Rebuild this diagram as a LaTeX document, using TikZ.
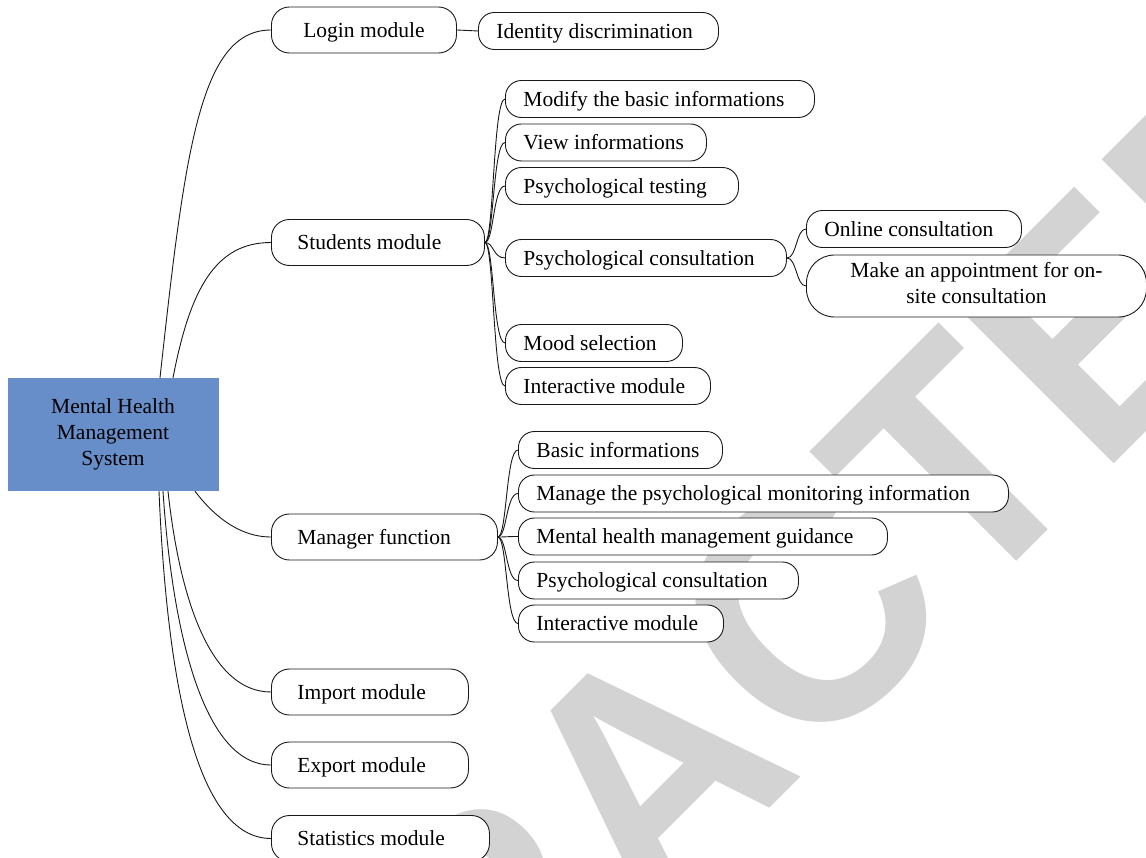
\documentclass[tikz,border=0pt]{standalone}
\usepackage{fontspec}
\setmainfont{Liberation Serif}
\newfontfamily\wmfont{Liberation Sans}
\definecolor{boxblue}{RGB}{104,142,201}
\definecolor{wmgray}{RGB}{211,211,211}
\newcommand\myL[2]{\makebox[#1pt][l]{#2}}
\begin{document}
\begin{tikzpicture}[x=1pt,y=-1pt,
  every node/.style={font=\fontsize{21.5}{26}\selectfont},
  lone/.style={draw=black!90, line width=0.9pt, fill=white, rounded corners=18pt,
    minimum height=46pt, inner xsep=26pt, inner ysep=0pt,
    text height=14.5pt, text depth=0pt, anchor=west},
  ltwo/.style={lone, rounded corners=16pt, minimum height=37pt, inner xsep=18pt},
  link/.style={draw=black!90, line width=0.9pt}]
\useasboundingbox (0,0) rectangle (1146,858);
\clip (0,0) rectangle (1146,858);
% watermark
\node[rotate=45, xscale=0.954, anchor=base west, inner sep=0pt, text=wmgray,
  font=\wmfont\bfseries\fontsize{325}{325}\selectfont] (wm) at (52,1526) {RETRACTED};
% central box
\node[fill=boxblue, minimum width=211pt, minimum height=113pt, align=center, inner sep=0pt] (c) at (113,434.5)
  {Mental Health\\Management\\System};
% level 1
\node[lone] (login) at (271,30) {\makebox[133pt]{Login module}};
\node[lone] (stud) at (271,242.5) {\myL{161}{Students module}};
\node[lone] (mgr) at (271,537) {\myL{174}{Manager function}};
\node[lone] (imp) at (271,692) {\myL{145}{Import module}};
\node[lone] (exp) at (271,765) {\myL{145}{Export module}};
\node[lone] (stat) at (271,838.5) {\myL{166}{Statistics module}};
% level 2
\node[ltwo] (ident) at (478,31) {\myL{204}{Identity discrimination}};
\node[ltwo] (mod) at (505,99) {\myL{273}{Modify the basic informations}};
\node[ltwo] (view) at (505,142.5) {\myL{165}{View informations}};
\node[ltwo] (test) at (505,186) {\myL{197}{Psychological testing}};
\node[ltwo] (pcs) at (505,258) {\myL{245}{Psychological consultation}};
\node[ltwo] (mood) at (505,343) {\myL{141}{Mood selection}};
\node[ltwo] (inter) at (505,386) {\myL{169}{Interactive module}};
\node[ltwo] (online) at (806,229) {\myL{179}{Online consultation}};
\node[draw=black!90, line width=0.9pt, fill=white, rounded corners=28pt, anchor=west,
  minimum width=340pt, minimum height=62pt, inner sep=0pt, align=center] (make) at (806,286)
  {Make an appointment for on-\\site consultation\rule[-6pt]{0pt}{6pt}};
\node[ltwo] (basic) at (518,450) {\myL{168}{Basic informations}};
\node[ltwo] (manage) at (518,493.5) {\myL{454}{Manage the psychological monitoring information}};
\node[ltwo] (mental) at (518,536.5) {\myL{333}{Mental health management guidance}};
\node[ltwo] (pcm) at (518,580.5) {\myL{244}{Psychological consultation}};
\node[ltwo] (interm) at (518,623.5) {\myL{169}{Interactive module}};
% connectors from central box
\draw[link] ([xshift=47pt]c.north) .. controls +(25,-228) and +(-71,0) .. (login.west);
\draw[link] ([xshift=60pt]c.north) .. controls +(17,-88) and +(-56,0) .. (stud.west);
\draw[link] ([xshift=82pt]c.south) .. controls +(15,20) and +(-35,0) .. (mgr.west);
\draw[link] ([xshift=55pt]c.south) .. controls +(12,110) and +(-60,0) .. (imp.west);
\draw[link] ([xshift=50pt]c.south) .. controls +(10,150) and +(-65,0) .. (exp.west);
\draw[link] ([xshift=46pt]c.south) .. controls +(8,190) and +(-75,0) .. (stat.west);
% level 2 connectors
\draw[link] (login.east) -- (ident.west);
\foreach \n in {mod,view,test,pcs,mood,inter}
  \draw[link] (stud.east) .. controls +(9,0) and +(-12,0) .. (\n.west);
\foreach \n in {basic,manage,mental,pcm,interm}
  \draw[link] (mgr.east) .. controls +(9,0) and +(-12,0) .. (\n.west);
\foreach \n in {online,make}
  \draw[link] (pcs.east) .. controls +(10,0) and +(-10,0) .. (\n.west);
\end{tikzpicture}
\end{document}
